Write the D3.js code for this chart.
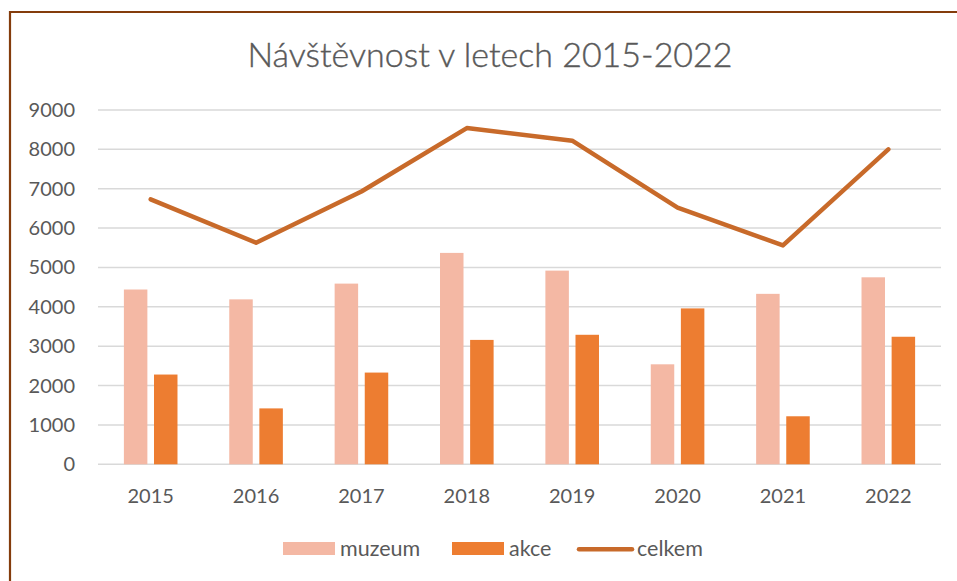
<!DOCTYPE html>
<html>
  <head>
    <meta charset="utf-8" />
    <title>Návštěvnost v letech 2015-2022</title>
    <script src="https://cdn.jsdelivr.net/npm/d3@7/dist/d3.min.js"></script>
    <style>
      body { margin: 0; background: #fff; }
      text { font-family: Lato, "Open Sans", sans-serif; fill: #595959; }
    </style>
  </head>
  <body>
    <script>
      // data
      const years = ["2015", "2016", "2017", "2018", "2019", "2020", "2021", "2022"];
      const muzeum = [4440, 4190, 4590, 5370, 4920, 2540, 4330, 4750];
      const akce = [2280, 1420, 2330, 3160, 3290, 3960, 1220, 3240];
      const celkem = [6730, 5630, 6930, 8540, 8220, 6520, 5560, 8000];
      const yTicks = [0, 1000, 2000, 3000, 4000, 5000, 6000, 7000, 8000, 9000];
      const series = ["muzeum", "akce"];

      const colors = { muzeum: "#F4B8A4", akce: "#ED7D31", celkem: "#C86A2A" };

      const w = 957;
      const h = 581;
      const plotL = 98, plotR = 941, plotT = 110, plotB = 464.3;

      const svg = d3.select("body").append("svg")
        .attr("width", w)
        .attr("height", h);

      // chart frame
      svg.append("path")
        .attr("d", "M10," + h + " V12 H" + w)
        .attr("fill", "none")
        .attr("stroke", "#843C0C")
        .attr("stroke-width", 2.2);

      svg.append("text")
        .attr("x", 490)
        .attr("y", 67)
        .attr("text-anchor", "middle")
        .style("font-size", "34px")
        .style("font-weight", 300)
        .style("stroke", "#595959")
        .style("stroke-width", 0.4)
        .text("Návštěvnost v letech 2015-2022");

      const x = d3.scaleBand().domain(years).range([plotL, plotR]);
      const y = d3.scaleLinear().domain([0, 9000]).range([plotB, plotT]);
      const xSub = d3.scaleBand().domain(series).range([0, 53.6]).paddingInner(0.22);
      const off = x.bandwidth() / 2 - 26.8;

      // gridlines
      svg.append("g")
        .selectAll("line")
        .data(yTicks)
        .enter()
        .append("line")
        .attr("x1", plotL)
        .attr("x2", plotR)
        .attr("y1", d => y(d))
        .attr("y2", d => y(d))
        .attr("stroke", "#D9D9D9")
        .attr("stroke-width", 1.5);

      // y labels
      svg.append("g")
        .selectAll("text")
        .data(yTicks)
        .enter()
        .append("text")
        .attr("x", 75)
        .attr("y", d => y(d) + 7)
        .attr("text-anchor", "end")
        .style("font-size", "20px")
        .text(d => d);

      // x labels
      svg.append("g")
        .selectAll("text")
        .data(years)
        .enter()
        .append("text")
        .attr("x", d => x(d) + x.bandwidth() / 2)
        .attr("y", 503)
        .attr("text-anchor", "middle")
        .style("font-size", "20px")
        .text(d => d);

      // bars
      const vals = { muzeum: muzeum, akce: akce };
      series.forEach(s => {
        svg.append("g")
          .selectAll("rect")
          .data(vals[s])
          .enter()
          .append("rect")
          .attr("x", (d, i) => x(years[i]) + off + xSub(s))
          .attr("width", xSub.bandwidth())
          .attr("y", d => y(d))
          .attr("height", d => y(0) - y(d))
          .attr("fill", colors[s]);
      });

      // total line
      const line = d3.line()
        .x((d, i) => x(years[i]) + x.bandwidth() / 2)
        .y(d => y(d));

      svg.append("path")
        .datum(celkem)
        .attr("d", line)
        .attr("fill", "none")
        .attr("stroke", colors.celkem)
        .attr("stroke-width", 4.5)
        .attr("stroke-linecap", "round")
        .attr("stroke-linejoin", "round");

      // legend
      const lg = svg.append("g").style("font-size", "21.5px");
      lg.append("rect").attr("x", 283).attr("y", 542).attr("width", 52).attr("height", 13).attr("fill", colors.muzeum);
      lg.append("text").attr("x", 340).attr("y", 556).text("muzeum");
      lg.append("rect").attr("x", 452).attr("y", 542).attr("width", 52).attr("height", 13).attr("fill", colors.akce);
      lg.append("text").attr("x", 509).attr("y", 556).text("akce");
      lg.append("line").attr("x1", 579).attr("x2", 632).attr("y1", 549.3).attr("y2", 549.3)
        .attr("stroke", colors.celkem).attr("stroke-width", 4.5).attr("stroke-linecap", "round");
      lg.append("text").attr("x", 637).attr("y", 556).text("celkem");
    </script>
  </body>
</html>
